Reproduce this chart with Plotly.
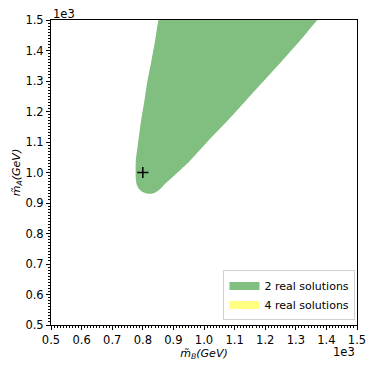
import plotly.graph_objects as go

# boundary of the 2-real-solution region (GeV)
# left edge top->bottom, then lower/right edge bottom->top
region_x = [858, 851, 840, 828, 815, 805, 794, 785, 777, 777, 780, 787, 797, 810, 824,
            840, 851, 862, 873, 895, 920, 953, 1014, 1075, 1135, 1195, 1254, 1313, 1370, 1402]
region_y = [1540, 1500, 1431, 1365, 1300, 1234, 1168, 1100, 1037, 980, 960, 947, 938, 932, 930,
            934, 941, 951, 963, 983, 1006, 1037, 1104, 1168, 1234, 1300, 1365, 1431, 1500, 1540]

point_x = [800]
point_y = [1000]

legend_names = ["2 real solutions", "4 real solutions"]
legend_colors = ["#80bf80", "#ffff80"]

tick_vals = [500, 600, 700, 800, 900, 1000, 1100, 1200, 1300, 1400, 1500]
tick_text = ["0.5", "0.6", "0.7", "0.8", "0.9", "1.0", "1.1", "1.2", "1.3", "1.4", "1.5"]

FONT = "DejaVu Sans"

fig = go.Figure()
fig.add_trace(go.Scatter(
    x=region_x + [region_x[0]], y=region_y + [region_y[0]],
    mode="lines", fill="toself", line=dict(width=0, shape="spline", smoothing=0.5),
    fillcolor=legend_colors[0], showlegend=False))
# legend swatches (the 4-solution region is empty in this plot)
for name, col in zip(legend_names, legend_colors):
    fig.add_trace(go.Scatter(x=[None], y=[None], mode="lines", name=name,
                             line=dict(width=8, color=col)))
fig.add_trace(go.Scatter(
    x=point_x, y=point_y, mode="markers", showlegend=False,
    marker=dict(symbol="cross-thin", size=8, line=dict(width=1.5, color="black"))))

axis = dict(range=[500, 1500], tickvals=tick_vals, ticktext=tick_text,
            ticks="outside", ticklen=4, tickwidth=1, tickcolor="black",
            showline=True, linecolor="black", linewidth=1, mirror=True,
            showgrid=False, zeroline=False, automargin=False,
            tickfont=dict(family=FONT, size=11.5, color="black"),
            minor=dict(ticks="outside", dtick=10, ticklen=2, tickcolor="black", showgrid=False))

fig.update_layout(
    width=366, height=362,
    margin=dict(l=43, r=17, t=12, b=45),
    plot_bgcolor="white", paper_bgcolor="white",
    font=dict(family=FONT, size=11.5, color="black"),
    xaxis=dict(axis, title=dict(text="<i>m̃</i><sub><i>B</i></sub><i>(GeV)</i>", font=dict(size=11), standoff=2)),
    yaxis=dict(axis, title=dict(text="<i>m̃</i><sub><i>A</i></sub><i>(GeV)</i>", font=dict(size=11), standoff=2)),
    legend=dict(x=0.995, y=0.015, xanchor="right", yanchor="bottom",
                bgcolor="white", bordercolor="#d0d0d0", borderwidth=1,
                font=dict(size=11), itemwidth=30, tracegroupgap=0),
    annotations=[
        dict(text="1e3", xref="paper", yref="paper", x=0, y=1, xanchor="left", yanchor="bottom",
             yshift=-3, showarrow=False, font=dict(size=11.5)),
        dict(text="1e3", xref="paper", yref="paper", x=1, y=0, xanchor="right", yanchor="top",
             yshift=-18, showarrow=False, font=dict(size=11.5)),
    ],
)

fig.write_html("out.html")
